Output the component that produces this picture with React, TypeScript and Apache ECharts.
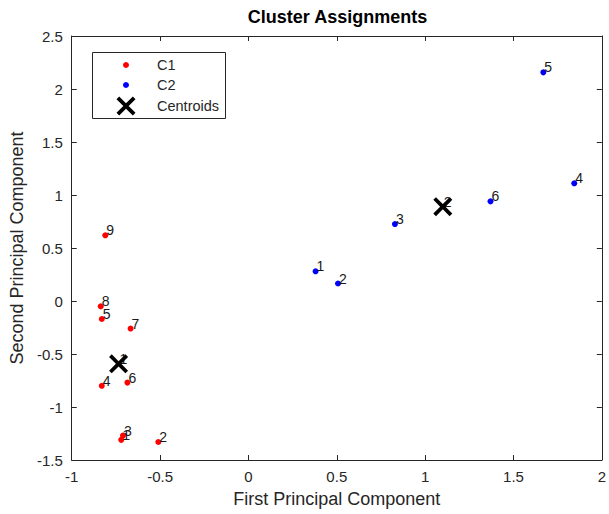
import React, { useEffect, useRef } from "react";
import * as echarts from "echarts";

const titleText = "Cluster Assignments";
const xName = "First Principal Component";
const yName = "Second Principal Component";

const c1Labels = ["1", "2", "3", "4", "5", "6", "7", "8", "9"];
const c1X = [-0.72, -0.51, -0.71, -0.83, -0.83, -0.685, -0.667, -0.836, -0.81];
const c1Y = [-1.31, -1.33, -1.27, -0.8, -0.17, -0.77, -0.26, -0.05, 0.62];

const c2Labels = ["1", "2", "3", "4", "5", "6"];
const c2X = [0.38, 0.507, 0.829, 1.844, 1.669, 1.37];
const c2Y = [0.28, 0.165, 0.726, 1.11, 2.157, 0.94];

const centroidLabels = ["1", "2"];
const centroidX = [-0.735, 1.1];
const centroidY = [-0.593, 0.89];

const legendNames = ["C1", "C2", "Centroids"];

const xMin = -1, xMax = 2, xStep = 0.5;
const yMin = -1.5, yMax = 2.5, yStep = 0.5;

const FONT = "'Liberation Sans', Arial, Helvetica, sans-serif";
const AX = "#262626";

// X marker outline in a 10x10 box
const xShape: [number, number][] = [
  [0, 1.4], [1.4, 0], [5, 3.6], [8.6, 0], [10, 1.4], [6.4, 5],
  [10, 8.6], [8.6, 10], [5, 6.4], [1.4, 10], [0, 8.6], [3.6, 5],
];
const xPath =
  "path://M" + xShape.map((p) => p[0] + "," + p[1]).join("L") + "Z";

function zip(xs: number[], ys: number[], ls: string[]) {
  return xs.map((x, i) => [x, ys[i], ls[i]]);
}

export default function App() {
  const ref = useRef<HTMLDivElement>(null);
  useEffect(() => {
    if (!ref.current) return;
    const chart = echarts.init(ref.current, undefined, { renderer: "svg" });

    const label = {
      show: true,
      formatter: (p: any) => p.data[2],
      position: [4, -2] as any,
      align: "left",
      verticalAlign: "middle",
      fontSize: 14,
      color: "#1a1a1a",
      fontFamily: FONT,
    };

    const axisLine = { show: true, onZero: false, lineStyle: { color: AX, width: 1 } };
    const axisTick = { show: true, inside: true, length: 5, lineStyle: { color: AX } };

    const xAxisBase = {
      type: "value",
      min: xMin,
      max: xMax,
      interval: xStep,
      axisLine,
      axisTick,
      splitLine: { show: false },
    };
    const yAxisBase = {
      type: "value",
      min: yMin,
      max: yMax,
      interval: yStep,
      axisLine,
      axisTick,
      splitLine: { show: false },
    };

    // legend drawn as graphic
    const lx = 92.5, ly = 52.5, lw = 133, lh = 66;
    const iconX = 126, textX = 157;
    const rowY = [65, 85, 106];
    const xs = 19;
    const legendX = xShape.map((p) => [
      iconX - xs / 2 + (p[0] / 10) * xs,
      rowY[2] - xs / 2 + (p[1] / 10) * xs,
    ]);

    chart.setOption({
      animation: false,
      backgroundColor: "#fff",
      title: {
        text: titleText,
        left: 337.5,
        textAlign: "center",
        top: 8,
        padding: 0,
        textStyle: { fontSize: 18, fontWeight: "bold", color: "#000", fontFamily: FONT },
      },
      grid: { left: 69, right: 3, top: 36, bottom: 54, containLabel: false },
      xAxis: [
        {
          ...xAxisBase,
          position: "bottom",
          name: xName,
          nameLocation: "middle",
          nameGap: 30,
          nameTextStyle: { fontSize: 18, color: AX, fontFamily: FONT },
          axisLabel: { show: true, fontSize: 15, color: AX, margin: 9, fontFamily: FONT },
        },
        {
          ...xAxisBase,
          position: "top",
          axisLabel: { show: false },
        },
      ],
      yAxis: [
        {
          ...yAxisBase,
          position: "left",
          name: yName,
          nameLocation: "middle",
          nameGap: 43,
          nameTextStyle: { fontSize: 18, color: AX, fontFamily: FONT },
          axisLabel: { show: true, fontSize: 15, color: AX, margin: 9, fontFamily: FONT },
        },
        {
          ...yAxisBase,
          position: "right",
          axisLabel: { show: false },
        },
      ],
      series: [
        {
          name: legendNames[0],
          type: "scatter",
          data: zip(c1X, c1Y, c1Labels),
          symbol: "circle",
          symbolSize: 6,
          itemStyle: { color: "#ff0000", opacity: 1 },
          label,
          z: 2,
        },
        {
          name: legendNames[1],
          type: "scatter",
          data: zip(c2X, c2Y, c2Labels),
          symbol: "circle",
          symbolSize: 6,
          itemStyle: { color: "#0000ff", opacity: 1 },
          label,
          z: 2,
        },
        {
          name: "centroid-labels",
          type: "scatter",
          data: zip(centroidX, centroidY, centroidLabels),
          symbol: "circle",
          symbolSize: 6,
          itemStyle: { color: "rgba(0,0,0,0)", opacity: 1 },
          label,
          z: 3,
        },
        {
          name: legendNames[2],
          type: "scatter",
          data: zip(centroidX, centroidY, centroidLabels),
          symbol: xPath,
          symbolSize: xs,
          itemStyle: { color: "#000", opacity: 1 },
          z: 4,
        },
      ],
      graphic: [
        {
          type: "rect",
          shape: { x: lx, y: ly, width: lw, height: lh },
          style: { fill: "#fff", stroke: AX, lineWidth: 1 },
          z: 10,
        },
        {
          type: "circle",
          shape: { cx: iconX, cy: rowY[0], r: 3 },
          style: { fill: "#ff0000" },
          z: 11,
        },
        {
          type: "circle",
          shape: { cx: iconX, cy: rowY[1], r: 3 },
          style: { fill: "#0000ff" },
          z: 11,
        },
        {
          type: "polygon",
          shape: { points: legendX },
          style: { fill: "#000" },
          z: 11,
        },
        ...legendNames.map((n, i) => ({
          type: "text",
          x: textX,
          y: rowY[i],
          style: {
            text: n,
            fontSize: 14.5,
            fill: AX,
            fontFamily: FONT,
            textVerticalAlign: "middle",
            verticalAlign: "middle",
            textAlign: "left",
          },
          z: 11,
        })),
      ],
    });
    return () => chart.dispose();
  }, []);
  return (
    <div
      ref={ref}
      style={{ position: "fixed", left: 0, top: 0, width: 609, height: 514, background: "#fff" }}
    />
  );
}
